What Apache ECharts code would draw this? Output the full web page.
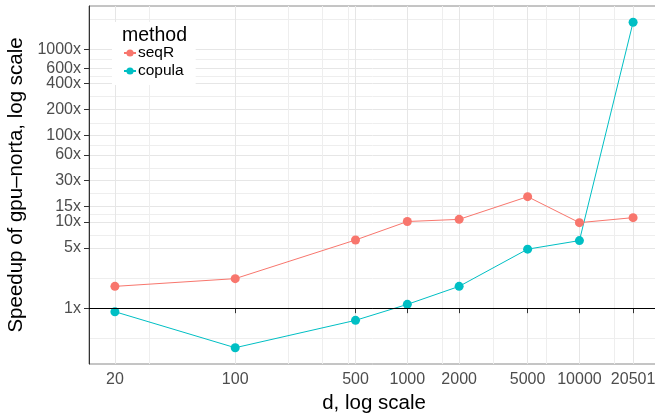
<!DOCTYPE html>
<html><head><meta charset="utf-8">
<script src="https://cdn.jsdelivr.net/npm/echarts@6/dist/echarts.min.js"></script>
<style>html,body{margin:0;padding:0;background:#fff}#c{width:655px;height:418px}</style>
</head><body><div id="c"></div>
<script>
// ---- data ----
const dValues = [20, 100, 500, 1000, 2000, 5000, 10000, 20501];
const seqR    = [1.79, 2.20, 6.17, 10.1, 10.7, 19.6, 9.8, 11.2];
const copula  = [0.91, 0.348, 0.723, 1.107, 1.79, 4.83, 6.07, 2060];
const xBreaks = [20, 100, 500, 1000, 2000, 5000, 10000, 20501];
const xLabels = ['20', '100', '500', '1000', '2000', '5000', '10000', '20501'];
const xMinor  = [31.6, 202, 319, 454, 1596, 3162, 6425, 15850];
const yBreaks = [1, 5, 10, 15, 30, 60, 100, 200, 400, 600, 1000];
const yLabels = ['1x', '5x', '10x', '15x', '30x', '60x', '100x', '200x', '400x', '600x', '1000x'];
const yMinor  = [0.447, 2.236, 7.07, 12.25, 21.2, 42.4, 77.5, 141, 283, 490, 775, 2236];
const refLine = 1;

const L = Math.log10;
function expand(vals) {
  const lo = Math.min(...vals.map(L)), hi = Math.max(...vals.map(L));
  const e = (hi - lo) * 0.05;
  return [lo - e, hi + e];
}
const xr = expand(dValues);
const yr = expand(seqR.concat(copula));
function fmt(breaks, labels) {
  return function (v) {
    const i = breaks.findIndex(b => Math.abs(L(b) - v) < 1e-6);
    return i >= 0 ? labels[i] : '';
  };
}
const FONT = 'Liberation Sans, Arial, sans-serif';
const gridMajor = '#e6e6e6', gridMinor = '#eeeeee';

const chart = echarts.init(document.getElementById('c'), null, {renderer: 'canvas'});
chart.setOption({
  animation: false,
  backgroundColor: '#fff',
  textStyle: {fontFamily: FONT},
  grid: {left: 89, right: -4, top: 6, bottom: 54, show: true, borderColor: '#8a8a8a', borderWidth: 1,
    backgroundColor: 'transparent', containLabel: false, outerBoundsMode: 'none'},
  title: {text: 'method', left: 122, top: 26, padding: 0, textStyle: {fontSize: 19.5, fontWeight: 'normal', color: '#000', fontFamily: FONT}},
  legend: {
    data: ['seqR', 'copula'], orient: 'vertical', left: 112, top: 22,
    padding: [23, 12, 6, 11], itemGap: 2, itemWidth: 12, itemHeight: 9,
    backgroundColor: '#fff',
    textStyle: {fontSize: 15.5, color: '#000', fontFamily: FONT, padding: [0, 0, 0, -3]}
  },
  xAxis: [{
    type: 'value', min: xr[0], max: xr[1],
    name: 'd, log scale', nameLocation: 'middle', nameGap: 28,
    nameTextStyle: {fontSize: 20.5, color: '#000', fontFamily: FONT},
    axisLine: {show: true, lineStyle: {color: '#333', width: 1}},
    axisTick: {show: true, length: 5, customValues: xBreaks.map(L), lineStyle: {color: '#333'}},
    axisLabel: {customValues: xBreaks.map(L), formatter: fmt(xBreaks, xLabels), fontSize: 16, color: '#4d4d4d', margin: 8, fontFamily: FONT},
    splitLine: {show: true, lineStyle: {color: gridMajor, width: 1}}
  }, {
    type: 'value', min: xr[0], max: xr[1], position: 'bottom',
    axisLine: {show: false}, axisLabel: {show: false},
    axisTick: {show: false, customValues: xMinor.map(L)},
    splitLine: {show: true, lineStyle: {color: gridMinor, width: 1}}
  }],
  yAxis: [{
    type: 'value', min: yr[0], max: yr[1],
    name: 'Speedup of gpu\u2013norta, log scale', nameLocation: 'middle', nameGap: 60,
    nameTextStyle: {fontSize: 20.5, color: '#000', fontFamily: FONT},
    axisLine: {show: true, lineStyle: {color: '#333', width: 1}},
    axisTick: {show: true, length: 5, customValues: yBreaks.map(L), lineStyle: {color: '#333'}},
    axisLabel: {customValues: yBreaks.map(L), formatter: fmt(yBreaks, yLabels), fontSize: 16, color: '#4d4d4d', margin: 8, fontFamily: FONT},
    splitLine: {show: true, lineStyle: {color: gridMajor, width: 1}}
  }, {
    type: 'value', min: yr[0], max: yr[1], position: 'left',
    axisLine: {show: false}, axisLabel: {show: false},
    axisTick: {show: false, customValues: yMinor.map(L)},
    splitLine: {show: true, lineStyle: {color: gridMinor, width: 1}}
  }],
  series: [{
    name: 'seqR', type: 'line', xAxisIndex: 0, yAxisIndex: 0,
    data: dValues.map((d, i) => [L(d), L(seqR[i])]),
    symbol: 'circle', symbolSize: 9, color: '#F8766D',
    lineStyle: {width: 1, color: '#F8766D'}, itemStyle: {color: '#F8766D'},
    markLine: {silent: true, symbol: 'none', label: {show: false},
      lineStyle: {color: '#000', width: 1, type: 'solid'}, data: [{yAxis: L(refLine)}]},
    z: 3
  }, {
    name: 'copula', type: 'line', xAxisIndex: 0, yAxisIndex: 0,
    data: dValues.map((d, i) => [L(d), L(copula[i])]),
    symbol: 'circle', symbolSize: 9, color: '#00BFC4',
    lineStyle: {width: 1, color: '#00BFC4'}, itemStyle: {color: '#00BFC4'},
    z: 3
  }]
});
</script></body></html>
